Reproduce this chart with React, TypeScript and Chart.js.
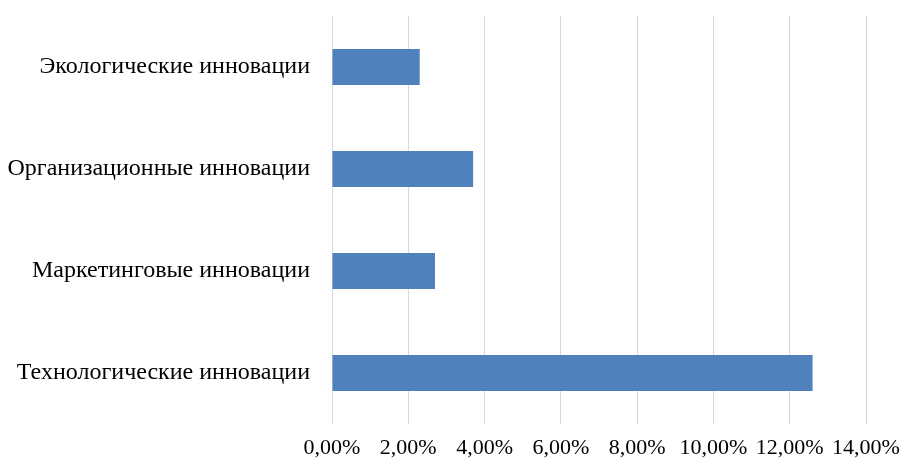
import React, { useEffect, useRef } from "react";
import { Chart, registerables } from "chart.js";

Chart.register(...registerables);

const categories = [
  "Экологические инновации",
  "Организационные инновации",
  "Маркетинговые инновации",
  "Технологические инновации",
];
const values = [2.3, 3.7, 2.7, 12.6];
const xMin = 0;
const xMax = 14;
const xStep = 2;

const FONT = "'Liberation Serif', 'Times New Roman', serif";

export default function App() {
  const ref = useRef<HTMLCanvasElement | null>(null);
  useEffect(() => {
    document.body.style.margin = "0";
    const ctx = ref.current!;
    const chart = new Chart(ctx, {
      type: "bar",
      data: {
        labels: categories,
        datasets: [
          {
            data: values,
            backgroundColor: "#4F81BD",
            borderWidth: 0,
            barPercentage: 0.353,
            categoryPercentage: 1,
          },
        ],
      },
      options: {
        indexAxis: "y",
        animation: false,
        responsive: false,
        maintainAspectRatio: false,
        layout: { padding: { top: 16, right: 38, left: 0, bottom: 0 } },
        plugins: { legend: { display: false }, tooltip: { enabled: false } },
        scales: {
          x: {
            min: xMin,
            max: xMax,
            ticks: {
              stepSize: xStep,
              color: "#000",
              font: { family: FONT, size: 22 },
              padding: 11,
              maxRotation: 0,
              autoSkip: false,
              callback: (v: any) => Number(v).toFixed(2).replace(".", ",") + "%",
            },
            grid: { color: "#d9d9d9", lineWidth: 1, drawTicks: false },
            border: { display: false },
            afterFit: (s: any) => {
              s.height = 41;
              s.paddingLeft = 0;
              s.paddingRight = 0;
            },
          },
          y: {
            ticks: {
              color: "#000",
              font: { family: FONT, size: 24 },
              padding: 22,
            },
            grid: { display: false, drawTicks: false },
            border: { display: false },
            afterFit: (s: any) => {
              s.width = 332;
              s.paddingTop = 0;
              s.paddingBottom = 0;
            },
          },
        },
      },
    });
    return () => chart.destroy();
  }, []);
  return (
    <div style={{ width: 904, height: 465 }}>
      <canvas ref={ref} width={904} height={465} />
    </div>
  );
}
